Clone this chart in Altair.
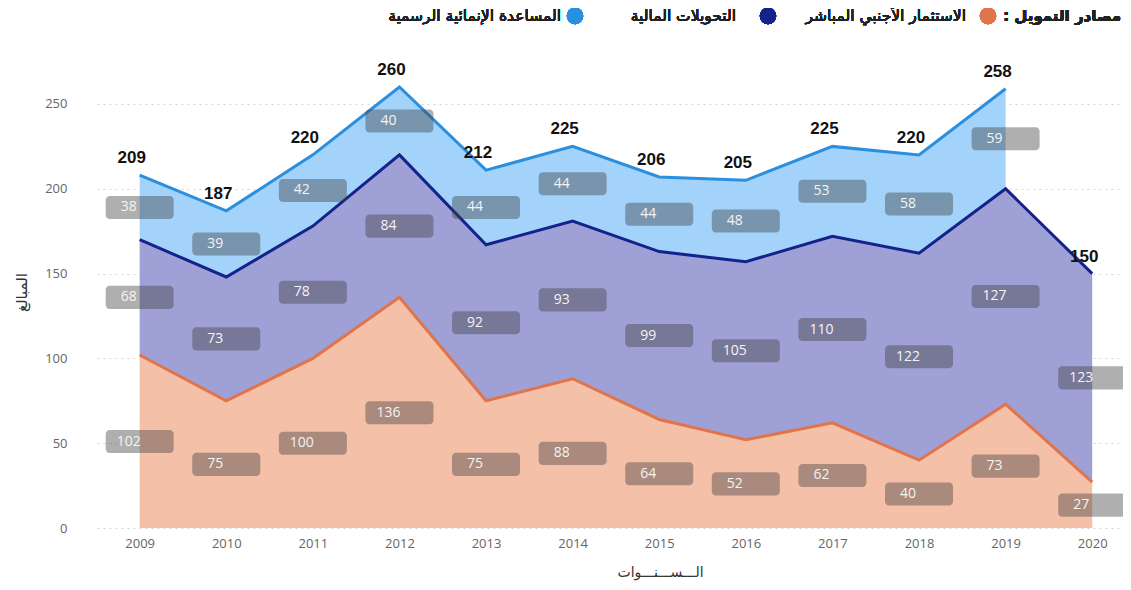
import altair as alt
import pandas as pd

years = [2009, 2010, 2011, 2012, 2013, 2014, 2015, 2016, 2017, 2018, 2019, 2020]
fdi = [102, 75, 100, 136, 75, 88, 64, 52, 62, 40, 73, 27]
remit = [68, 73, 78, 84, 92, 93, 99, 105, 110, 122, 127, 123]
oda = [38, 39, 42, 40, 44, 44, 44, 48, 53, 58, 59, None]
totals = [209, 187, 220, 260, 212, 225, 206, 205, 225, 220, 258, 150]

series_names = ["الاستثمار الأجنبي المباشر", "التحويلات المالية", "المساعدة الإنمائية الرسمية"]
fill_colors = ["#f4c0a8", "#9fa1d6", "#a3d3fb"]
line_colors = ["#e0744a", "#14238c", "#2b8fdf"]

rows = []
for i, yr in enumerate(years):
    c1 = fdi[i]
    c2 = c1 + remit[i]
    c3 = c2 + oda[i] if oda[i] is not None else None
    rows.append({"year": yr, "b0": 0, "c1": c1, "c2": c2, "c3": c3,
                 "total": totals[i], "top": c3 if c3 is not None else c2})
wide = pd.DataFrame(rows)

lab = []
for i, yr in enumerate(years):
    base = 0
    for v in (fdi[i], remit[i], oda[i]):
        if v is None:
            continue
        mid = base + v / 2
        lab.append({"year": yr, "value": v, "lo": mid - 6.8, "hi": mid + 6.8, "mid": mid})
        base += v
labels = pd.DataFrame(lab)

W, H = 1026, 472
xscale = alt.Scale(domain=[2008.565, 2020.298], nice=False, zero=False)
yscale = alt.Scale(domain=[0, 278.3], nice=False)

xax = alt.Axis(values=years, format="d", grid=False, domain=False, ticks=False,
               labelFont="Open Sans", labelFontSize=13, labelColor="#666666",
               labelPadding=9, title="الـــســـنـــوات", titleFont="DejaVu Sans",
               titleFontSize=14, titleFontWeight="normal", titleColor="#333333",
               titleX=563, titleY=44, titleBaseline="middle")
yax = alt.Axis(values=[0, 50, 100, 150, 200, 250], grid=True, gridDash=[2, 4],
               gridColor="#d4d4d4", domain=False, ticks=False,
               labelFont="Open Sans", labelFontSize=13, labelColor="#666666",
               labelPadding=30, title="المبالغ", titleFont="DejaVu Sans",
               titleFontSize=15, titleFontWeight="normal", titleColor="#333333",
               titleX=-76, titleBaseline="middle")

base = alt.Chart(wide)

a1 = base.mark_area(color=fill_colors[0], opacity=1).encode(
    x=alt.X("year:Q", scale=xscale, axis=xax),
    y=alt.Y("c1:Q", scale=yscale, axis=yax),
    y2="b0:Q")
a2 = base.mark_area(color=fill_colors[1], opacity=1).encode(
    x=alt.X("year:Q", scale=xscale), y=alt.Y("c2:Q", scale=yscale), y2="c1:Q")
a3 = base.transform_filter("datum.c3 != null").mark_area(color=fill_colors[2], opacity=1).encode(
    x=alt.X("year:Q", scale=xscale), y=alt.Y("c3:Q", scale=yscale), y2="c2:Q")

l1 = base.mark_line(color=line_colors[0], strokeWidth=3).encode(
    x=alt.X("year:Q", scale=xscale), y=alt.Y("c1:Q", scale=yscale))
l2 = base.mark_line(color=line_colors[1], strokeWidth=3).encode(
    x=alt.X("year:Q", scale=xscale), y=alt.Y("c2:Q", scale=yscale))
l3 = base.transform_filter("datum.c3 != null").mark_line(color=line_colors[2], strokeWidth=3).encode(
    x=alt.X("year:Q", scale=xscale), y=alt.Y("c3:Q", scale=yscale))

boxes = alt.Chart(labels).mark_bar(width=68, color="#404040", opacity=0.42, cornerRadius=4).encode(
    x=alt.X("year:Q", scale=xscale), y=alt.Y("lo:Q", scale=yscale), y2="hi:Q")
btext = alt.Chart(labels).mark_text(font="Open Sans", fontSize=14, color="#f4f4f4", dx=-11,
                                    baseline="middle").encode(
    x=alt.X("year:Q", scale=xscale), y=alt.Y("mid:Q", scale=yscale), text="value:Q")

ttext = base.mark_text(font="Liberation Sans", fontSize=17, fontWeight="bold", color="#111111",
                       dx=-8, dy=-17, baseline="middle").encode(
    x=alt.X("year:Q", scale=xscale), y=alt.Y("top:Q", scale=yscale), text="total:Q")

# legend (right-to-left)
leg_y = -40
leg_title = alt.Chart(wide).mark_text(text="مصادر التمويل :\u200f", font="DejaVu Sans", fontSize=15,
                                      fontWeight="bold", align="right", baseline="middle",
                                      color="#222222").encode(x=alt.value(1024), y=alt.value(leg_y))
leg_items = []
circle_x = [891, 671, 478]
text_x = [869, 639, 464]
for i in range(3):
    leg_items.append(alt.Chart(wide).mark_circle(size=270, color=line_colors[i], opacity=1).encode(
        x=alt.value(circle_x[i]), y=alt.value(leg_y)))
    leg_items.append(alt.Chart(wide).mark_text(text=series_names[i], font="DejaVu Sans", fontSize=15.5,
                                               align="right", baseline="middle", color="#222222").encode(
        x=alt.value(text_x[i]), y=alt.value(leg_y)))

chart = alt.layer(a1, a2, a3, l1, l2, l3, boxes, btext, ttext, leg_title, *leg_items).properties(
    width=W, height=H,
    autosize=alt.AutoSizeParams(type="none"),
    padding={"left": 89, "top": 48, "right": 0, "bottom": 54},
).configure(background="white").configure_view(stroke=None, strokeWidth=0)

chart.save("out.html", embed_options={"renderer": "svg", "actions": False})
